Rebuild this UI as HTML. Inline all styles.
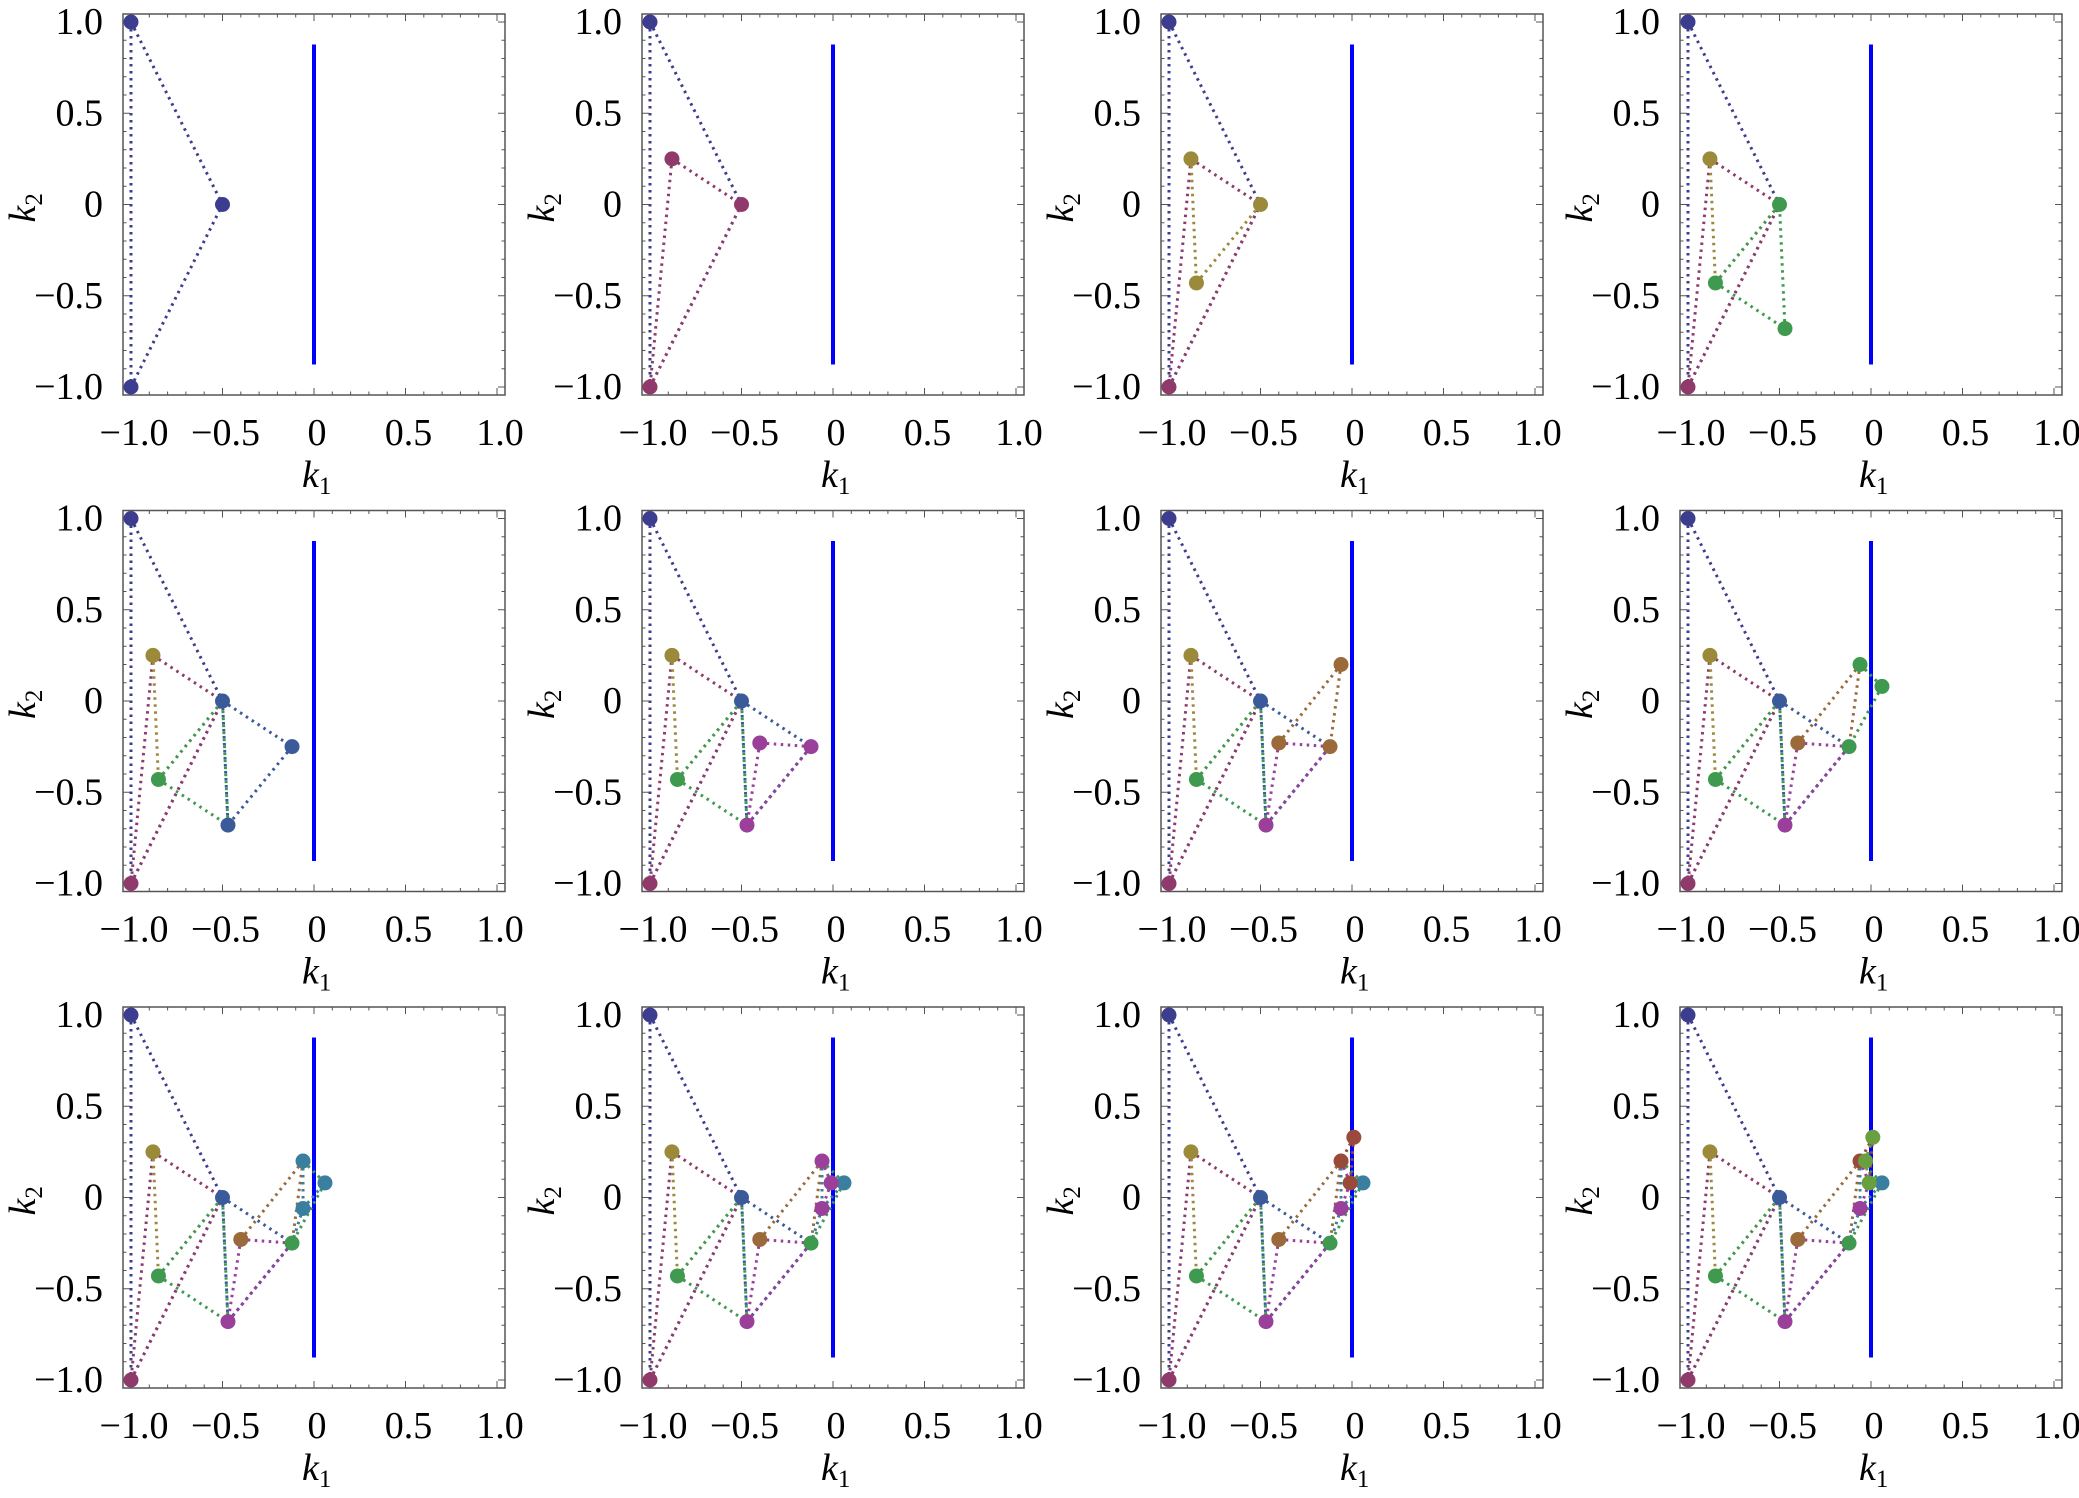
<!DOCTYPE html>
<html><head><meta charset="utf-8"><style>
html,body{margin:0;padding:0;background:#fff;}
svg{display:block;}
text{font-family:"Liberation Serif",serif;fill:#000;}
</style></head><body>
<svg id="s" width="2079" height="1498" xmlns="http://www.w3.org/2000/svg"></svg>
<script>
const s=document.getElementById('s');
let h='';
const FF='font-family="Liberation Serif, serif"';
const P={A:[-1,1],B:[-1,-1],C:[-0.5,0],D:[-0.88,0.25],E:[-0.85,-0.43],F:[-0.47,-0.68],G:[-0.4,-0.23],H:[-0.12,-0.25],K:[-0.06,0.2],J:[0.06,0.08],I:[-0.06,-0.06],Q:[-0.01,0.08],L:[0.01,0.33],M:[-0.03,0.2]};
const col={navy:'#3d3d8f',mar:'#8f3a6a',oli:'#9a8a3a',grn:'#3f9a4f',blu:'#3a5a9a',mag:'#9a3f9a',brn:'#9a6a3a',tea:'#3a7fa0',red:'#9a4a3a',lim:'#6a9f3f'};
const steps=[
 {c:'navy',pts:['A','B','C'],e:[['A','B'],['A','C'],['B','C']]},
 {c:'mar',pts:['D','B','C'],e:[['D','B'],['D','C'],['B','C']]},
 {c:'oli',pts:['E','D','C'],e:[['D','E'],['E','C']]},
 {c:'grn',pts:['F','E','C'],e:[['E','F'],['F','C'],['E','C']]},
 {c:'blu',pts:['H','C','F'],e:[['C','H'],['H','F'],['C','F']]},
 {c:'mag',pts:['G','H','F'],e:[['G','H'],['G','F'],['F','H']]},
 {c:'brn',pts:['K','G','H'],e:[['G','K'],['K','H']]},
 {c:'grn',pts:['J','K','H'],e:[['K','J'],['J','H']]},
 {c:'tea',pts:['I','K','J'],e:[['K','I'],['I','J'],['I','H']]},
 {c:'mag',pts:['Q','K','I'],e:[['K','Q'],['Q','I']]},
 {c:'red',pts:['L','K','Q'],e:[['L','K'],['L','Q']]},
 {c:'lim',pts:['M','L','Q'],e:[['M','L'],['M','Q']]}
];
const colsX=[123,642,1161,1680], rowsY=[14,510.5,1007];
for(let n=0;n<12;n++){
 const L0=colsX[n%4], T0=rowsY[Math.floor(n/4)], W=382, Hh=381;
 const X=k=>L0+8+183*(k+1), Y=k=>T0+8+182.5*(1-k);
 h+=`<rect x="${L0}" y="${T0}" width="${W}" height="${Hh}" fill="none" stroke="#555" stroke-width="1.5"/>`;
 for(let i=-10;i<=10;i++){
  const v=i/10, maj=(i%5===0), len=maj?7:3.5;
  const x=X(v), y=Y(v);
  h+=`<line x1="${x}" y1="${T0+Hh}" x2="${x}" y2="${T0+Hh-len}" stroke="#555" stroke-width="1"/>`;
  h+=`<line x1="${x}" y1="${T0}" x2="${x}" y2="${T0+len}" stroke="#555" stroke-width="1"/>`;
  h+=`<line x1="${L0}" y1="${y}" x2="${L0+len}" y2="${y}" stroke="#555" stroke-width="1"/>`;
  h+=`<line x1="${L0+W}" y1="${y}" x2="${L0+W-len}" y2="${y}" stroke="#555" stroke-width="1"/>`;
 }
 const labs=[[-1,'\u22121.0'],[-0.5,'\u22120.5'],[0,'0'],[0.5,'0.5'],[1,'1.0']];
 for(const [v,t] of labs){
  h+=`<text ${FF} x="${X(v)+3}" y="${T0+Hh+50}" font-size="38" text-anchor="middle">${t}</text>`;
  h+=`<text ${FF} x="${L0-20}" y="${Y(v)+12}" font-size="38" text-anchor="end">${t}</text>`;
 }
 h+=`<text ${FF} x="${X(0)-12}" y="${T0+Hh+92}" font-size="38" font-style="italic">k<tspan font-size="25" font-style="normal" dy="7">1</tspan></text>`;
 h+=`<text ${FF} transform="translate(${L0-88},${Y(0)+18}) rotate(-90)" font-size="38" font-style="italic">k<tspan font-size="25" font-style="normal" dy="7">2</tspan></text>`;
 h+=`<line x1="${X(0)}" y1="${Y(0.877)}" x2="${X(0)}" y2="${Y(-0.877)}" stroke="#0000ff" stroke-width="4"/>`;
 const dc={};
 for(let k=0;k<=n;k++){
  const st=steps[k];
  for(const [a,b] of st.e){
   h+=`<line x1="${X(P[a][0])}" y1="${Y(P[a][1])}" x2="${X(P[b][0])}" y2="${Y(P[b][1])}" stroke="${col[st.c]}" stroke-width="3" stroke-dasharray="2.5 4.5"/>`;
  }
  for(const p of st.pts) dc[p]=col[st.c];
 }
 for(const p in dc){
  h+=`<circle cx="${X(P[p][0])}" cy="${Y(P[p][1])}" r="7.5" fill="${dc[p]}"/>`;
 }
}
s.innerHTML=h;
</script>
</body></html>
